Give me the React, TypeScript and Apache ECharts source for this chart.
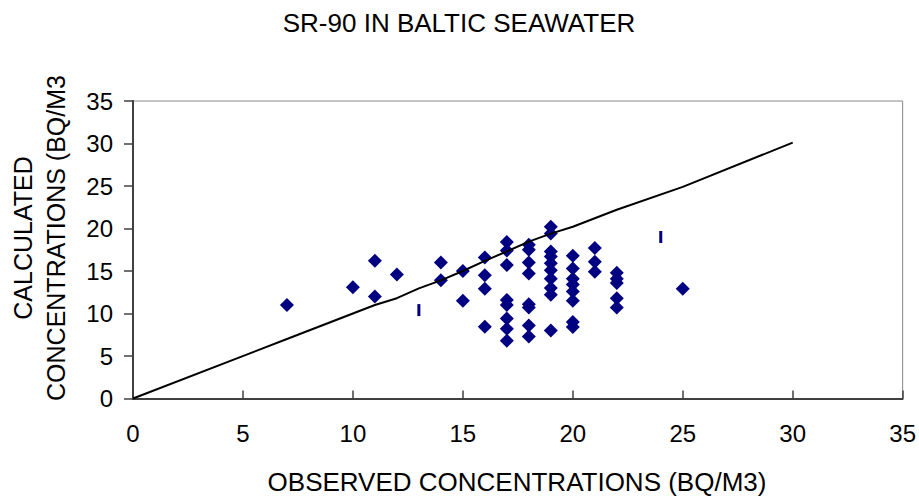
import React, { useEffect, useRef } from "react";
import * as echarts from "echarts";

const titleText = "SR-90 IN BALTIC SEAWATER";
const xAxisTitle = "OBSERVED CONCENTRATIONS (BQ/M3)";
const yAxisTitleLines = ["CALCULATED", "CONCENTRATIONS (BQ/M3"];

// observed / calculated pairs (diamonds)
const observed = [
  7, 10, 11, 11, 12, 14, 14, 15, 15,
  16, 16, 16, 16,
  17, 17, 17, 17, 17, 17, 17, 17,
  18, 18, 18, 18, 18, 18, 18, 18,
  19, 19, 19, 19, 19, 19, 19, 19, 19, 19,
  20, 20, 20, 20, 20, 20, 20, 20,
  21, 21, 21,
  22, 22, 22, 22, 22,
  25,
];
const calculated = [
  11.0, 13.1, 16.2, 12.0, 14.6, 16.0, 13.9, 15.0, 11.5,
  16.6, 14.5, 12.9, 8.45,
  18.4, 17.4, 15.7, 11.6, 11.0, 9.4, 8.2, 6.8,
  18.1, 17.5, 16.0, 14.7, 11.1, 10.7, 8.6, 7.3,
  20.2, 19.4, 17.3, 16.7, 15.9, 15.1, 14.1, 13.0, 12.2, 8.0,
  16.8, 15.3, 14.1, 13.4, 12.6, 11.5, 9.0, 8.4,
  17.7, 16.1, 14.9,
  14.8, 14.1, 13.6, 11.8, 10.7,
  12.9,
];

// small vertical-dash points
const dashObserved = [13, 24];
const dashCalculated = [10.4, 19.0];

// reference line
const lineObserved = [0, 7, 10, 11, 12, 13, 14, 15, 16, 17, 18, 19, 20, 21, 22, 25, 30];
const lineCalculated = [0, 7, 10, 11, 11.8, 12.95, 13.9, 15.0, 16.2, 17.3, 18.45, 19.4, 20.2, 21.2, 22.2, 24.9, 30.1];

const xTicks = [0, 5, 10, 15, 20, 25, 30, 35];

const FONT = "'Liberation Sans', Arial, sans-serif";
const NAVY = "#000080";

export default function App() {
  const ref = useRef<HTMLDivElement>(null);

  useEffect(() => {
    if (!ref.current) return;
    const chart = echarts.init(ref.current, undefined, { renderer: "svg" });

    const scatterData = observed.map((x, i) => [x, calculated[i]]);
    const dashData = dashObserved.map((x, i) => [x, dashCalculated[i]]);
    const lineData = lineObserved.map((x, i) => [x, lineCalculated[i]]);

    chart.setOption({
      animation: false,
      backgroundColor: "#ffffff",
      grid: {
        left: 133,
        right: 16,
        top: 101,
        bottom: 98.5,
        show: true,
        borderColor: "#888888",
        borderWidth: 1,
        backgroundColor: "transparent",
      },
      xAxis: {
        type: "value",
        min: xTicks[0],
        max: xTicks[xTicks.length - 1],
        interval: 5,
        axisLine: { show: true, onZero: false, lineStyle: { color: "#404040", width: 2 } },
        axisTick: { show: true, inside: true, length: 8, lineStyle: { color: "#404040", width: 1.5 } },
        splitLine: { show: false },
        axisLabel: { color: "#000", fontFamily: FONT, fontSize: 24, margin: 23 },
      },
      yAxis: {
        type: "value",
        min: 0,
        max: 35,
        interval: 5,
        axisLine: { show: true, onZero: false, lineStyle: { color: "#404040", width: 2 } },
        axisTick: { show: true, inside: false, length: 9, lineStyle: { color: "#404040", width: 1.5 } },
        splitLine: { show: false },
        axisLabel: { color: "#000", fontFamily: FONT, fontSize: 24, margin: 20 },
      },
      graphic: [
        {
          type: "text",
          x: 459,
          y: 23,
          style: {
            text: titleText,
            fontFamily: FONT,
            fontSize: 26,
            fill: "#000",
            textAlign: "center",
            textVerticalAlign: "middle",
          },
        },
        {
          type: "text",
          x: 517,
          y: 482,
          style: {
            text: xAxisTitle,
            fontFamily: FONT,
            fontSize: 26,
            fill: "#000",
            textAlign: "center",
            textVerticalAlign: "middle",
          },
        },
        {
          type: "text",
          x: 39,
          y: 238,
          rotation: Math.PI / 2,
          style: {
            text: yAxisTitleLines.join("\n"),
            fontFamily: FONT,
            fontSize: 25,
            lineHeight: 33,
            fill: "#000",
            textAlign: "center",
            textVerticalAlign: "middle",
          },
        },
      ],
      series: [
        {
          type: "scatter",
          data: scatterData,
          symbol: "diamond",
          symbolSize: 14,
          itemStyle: { color: NAVY, opacity: 1 },
          z: 2,
        },
        {
          type: "scatter",
          data: dashData,
          symbol: "rect",
          symbolSize: [3, 12],
          itemStyle: { color: NAVY, opacity: 1 },
          z: 2,
        },
        {
          type: "line",
          data: lineData,
          showSymbol: false,
          symbol: "none",
          lineStyle: { color: "#000", width: 2 },
          z: 3,
        },
      ],
    });

    return () => chart.dispose();
  }, []);

  return (
    <div
      ref={ref}
      style={{ position: "absolute", left: 0, top: 0, width: 919, height: 497 }}
    />
  );
}
